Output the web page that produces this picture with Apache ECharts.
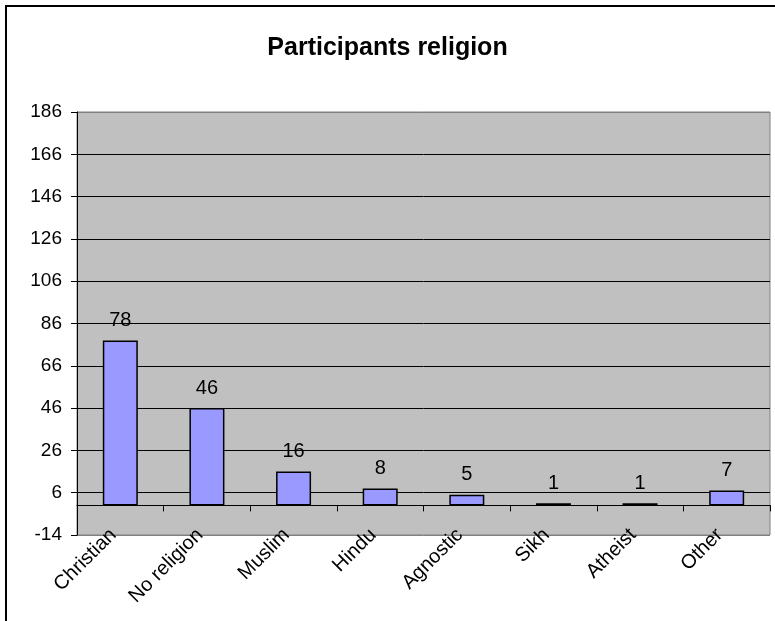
<!DOCTYPE html>
<html>
<head>
<meta charset="utf-8">
<script src="https://cdn.jsdelivr.net/npm/echarts@6/dist/echarts.min.js"></script>
<style>
  html, body { margin: 0; padding: 0; background: #fff; }
  #main { width: 775px; height: 621px; }
</style>
</head>
<body>
<div id="main"></div>
<script>
const categories = ['Christian', 'No religion', 'Muslim', 'Hindu', 'Agnostic', 'Sikh', 'Atheist', 'Other']
const counts = [78, 46, 16, 8, 5, 1, 1, 7]
const yMin = -14
const yMax = 186
const yStep = 20

// gray border lines at min and max, black grid lines between
const gridColors = []
for (let v = yMin; v <= yMax; v += yStep) {
  gridColors.push(v === yMin || v === yMax ? '#808080' : '#000')
}

const chart = echarts.init(document.getElementById('main'))
chart.setOption({
  backgroundColor: '#fff',
  animation: false,
  title: {
    text: 'Participants religion',
    left: 'center',
    top: 31,
    textStyle: { fontFamily: 'Liberation Sans', fontSize: 25, fontWeight: 'bold', color: '#000' },
  },
  graphic: [
    {
      type: 'rect',
      shape: { x: 6, y: 6, width: 820, height: 700 },
      style: { fill: 'none', stroke: '#000', lineWidth: 2 },
      silent: true,
    },
  ],
  grid: {
    left: 77,
    right: 5,
    top: 112,
    bottom: 86,
    show: true,
    backgroundColor: '#c0c0c0',
    borderColor: '#808080',
    borderWidth: 1,
  },
  xAxis: [
    {
      type: 'category',
      data: categories,
      position: 'bottom',
      axisLine: { show: true, onZero: true, lineStyle: { color: '#000', width: 1 } },
      axisTick: { show: true, inside: false, length: 6, lineStyle: { color: '#000' } },
      axisLabel: { show: false },
      splitLine: { show: false },
    },
    {
      type: 'category',
      data: categories,
      position: 'bottom',
      axisLine: { show: false, onZero: false },
      axisTick: { show: false },
      axisLabel: {
        show: true,
        rotate: 45,
        margin: 4,
        align: 'right',
        verticalAlign: 'bottom',
        fontFamily: 'Liberation Sans',
        fontSize: 20,
        color: '#000',
      },
      splitLine: { show: false },
    },
  ],
  yAxis: {
    type: 'value',
    min: yMin,
    max: yMax,
    interval: yStep,
    axisLine: { show: true, lineStyle: { color: '#000', width: 1 } },
    axisTick: { show: true, length: 6, lineStyle: { color: '#000' } },
    axisLabel: { margin: 15, fontFamily: 'Liberation Sans', fontSize: 19, color: '#000' },
    splitLine: { show: true, lineStyle: { color: gridColors, width: 1 } },
  },
  series: [
    {
      type: 'bar',
      xAxisIndex: 0,
      data: counts,
      barWidth: 35,
      itemStyle: { color: '#9999ff', borderColor: '#000', borderWidth: 1.5 },
      label: {
        show: true,
        position: 'top',
        distance: 10,
        fontFamily: 'Liberation Sans',
        fontSize: 20,
        color: '#000',
      },
    },
  ],
})
</script>
</body>
</html>
